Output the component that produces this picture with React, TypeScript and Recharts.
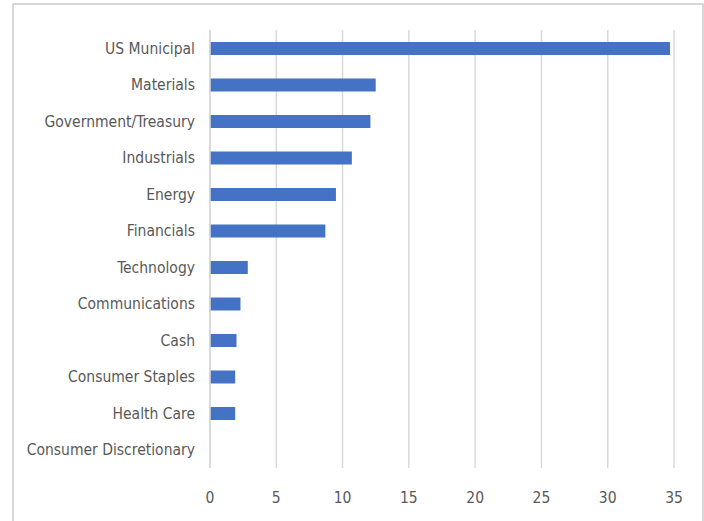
import React from 'react';
import { BarChart, Bar, XAxis, YAxis, CartesianGrid } from 'recharts';

const sectors = [
  'US Municipal',
  'Materials',
  'Government/Treasury',
  'Industrials',
  'Energy',
  'Financials',
  'Technology',
  'Communications',
  'Cash',
  'Consumer Staples',
  'Health Care',
  'Consumer Discretionary',
];
const weights = [34.7, 12.5, 12.1, 10.7, 9.5, 8.7, 2.85, 2.3, 2.0, 1.9, 1.9, 0];
const xTicks = [0, 5, 10, 15, 20, 25, 30, 35];

const data = sectors.map((name, i) => ({ name, value: weights[i] }));

const FONT = '"DejaVu Sans Condensed", "DejaVu Sans", sans-serif';
const TEXT = '#595959';
const GRID = '#d9d9d9';
const tickStyle = { fill: TEXT, fontSize: 15.5, fontFamily: FONT, fontStretch: 'condensed' };

export default function App() {
  return (
    <div style={{ position: 'fixed', left: 0, top: 0, width: 704, height: 521, background: '#fff', overflow: 'hidden' }}>
      <div
        style={{
          position: 'absolute',
          left: 12,
          top: 3,
          width: 692,
          height: 540,
          border: `2px solid ${GRID}`,
          boxSizing: 'border-box',
        }}
      />
      <div style={{ position: 'absolute', left: 0, top: 0 }}>
        <BarChart
          width={704}
          height={521}
          data={data}
          layout="vertical"
          margin={{ top: 30, right: 30, bottom: 23, left: 10 }}
        >
          <CartesianGrid horizontal={false} vertical stroke={GRID} strokeWidth={1.5} />
          <XAxis
            type="number"
            domain={[0, 35]}
            ticks={xTicks}
            axisLine={false}
            tickLine={false}
            height={30}
            tickMargin={18}
            tick={tickStyle}
          />
          <YAxis
            type="category"
            dataKey="name"
            width={200}
            axisLine={{ stroke: GRID, strokeWidth: 1.5 }}
            tickLine={false}
            tickMargin={9}
            interval={0}
            tick={tickStyle}
          />
          <Bar dataKey="value" fill="#4472C4" barSize={13} isAnimationActive={false} />
        </BarChart>
      </div>
    </div>
  );
}
